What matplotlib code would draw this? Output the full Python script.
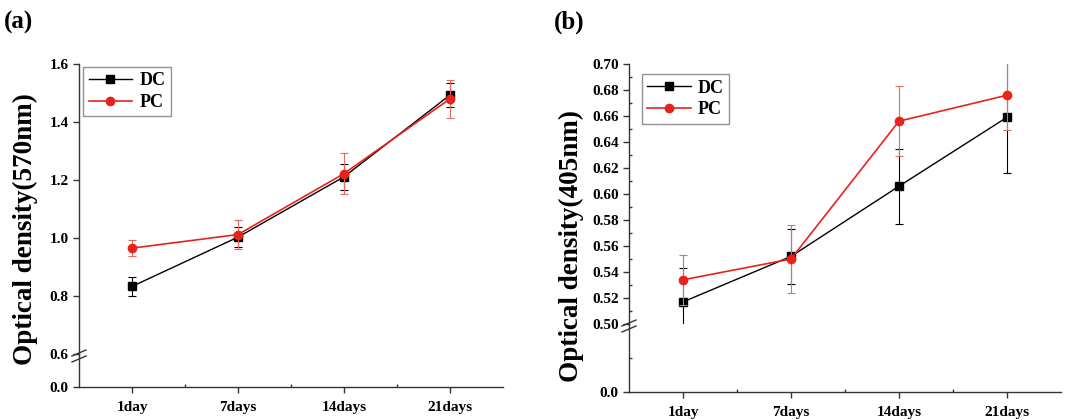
import numpy as np
import matplotlib
matplotlib.use("Agg")
import matplotlib.pyplot as plt
from matplotlib.lines import Line2D
from matplotlib.ticker import FixedLocator, MultipleLocator

plt.rcParams['font.family'] = ['Liberation Serif', 'DejaVu Serif']
plt.rcParams['font.weight'] = 'bold'

days = ["1day", "7days", "14days", "21days"]

# (a) optical density at 570nm
dc_570 = [0.833, 1.003, 1.211, 1.493]
dc_570_err = [0.033, 0.035, 0.045, 0.040]
pc_570 = [0.965, 1.012, 1.222, 1.480]
pc_570_err = [0.027, 0.050, 0.070, 0.065]

# (b) optical density at 405nm
dc_405 = [0.517, 0.552, 0.606, 0.659]
dc_405_err = [0.026, 0.021, 0.029, 0.043]
pc_405 = [0.534, 0.550, 0.656, 0.676]
pc_405_err = [0.019, 0.026, 0.027, 0.027]

RED = '#e8231c'
W, H = 1080, 420


def frac(left, top, right, bottom):
    return [left / W, 1 - bottom / H, (right - left) / W, (bottom - top) / H]


def style(ax):
    for s in ['top', 'right']:
        ax.spines[s].set_visible(False)
    for s in ax.spines.values():
        s.set_color('#333333')
        s.set_linewidth(1.0)
    ax.tick_params(which='major', direction='out', length=4, width=1,
                   labelsize=11, color='#333333')
    ax.tick_params(which='minor', direction='in', length=2.5, width=1, color='#333333')
    for lab in ax.get_xticklabels() + ax.get_yticklabels():
        lab.set_fontweight('bold')


def draw_panel(left, right, top, brk, bottom, upper_lim, lower_lim, yticks,
               yfmt, ymin_minor, lower_minor, dc, dce, pc, pce, ylabel, letter,
               lab_dx, lab_y, leg_anchor):
    x = np.arange(1, len(days) + 1)
    up = fig.add_axes(frac(left, top, right, brk))
    lo = fig.add_axes(frac(left, brk, right, bottom))

    for ax in (up, lo):
        ax.errorbar(x, dc, yerr=dce, color='black', lw=1.0, marker='s', ms=5.5,
                    capsize=3, elinewidth=0.8, capthick=0.8, zorder=3)
        ax.errorbar(x, pc, yerr=pce, color=RED, lw=1.2, marker='o', ms=6,
                    capsize=3, elinewidth=0.8, capthick=0.8, zorder=4,
                    ecolor='#e86a60')
        ax.set_xlim(0.5, len(days) + 0.5)
        ax.patch.set_alpha(0)

    up.set_ylim(*upper_lim)
    up.set_yticks(yticks)
    up.set_yticklabels([yfmt.format(v) for v in yticks])
    if ymin_minor:
        up.yaxis.set_minor_locator(MultipleLocator(ymin_minor))
    up.set_xticks([])
    style(up)
    up.spines['bottom'].set_visible(False)

    lo.set_ylim(*lower_lim)
    lo.set_yticks([0.0])
    lo.set_yticklabels(['0.0'])
    if lower_minor:
        lo.yaxis.set_minor_locator(FixedLocator(lower_minor))
    lo.set_xticks(x)
    lo.set_xticklabels(days)
    lo.xaxis.set_minor_locator(FixedLocator(x[:-1] + 0.5))
    style(lo)
    lo.tick_params(axis='x', which='major', pad=6)

    # break marks on the y axis
    xb = left / W
    yb = 1 - (brk + 2) / H
    for dy in (-3, 3):
        fig.add_artist(Line2D([xb - 7 / W, xb + 7 / W],
                              [yb + (dy - 3) / H, yb + (dy + 3) / H],
                              color='#333333', lw=1.0))

    fig.text((left - lab_dx) / W, 1 - lab_y / H, ylabel, rotation=90,
             ha='center', va='center', fontsize=19.5, fontweight='bold')
    fig.text((left - 75) / W, 1 - 22 / H, letter, ha='left', va='center',
             fontsize=18, fontweight='bold')

    handles = [Line2D([], [], color='black', lw=1.0, marker='s', ms=5.5),
               Line2D([], [], color=RED, lw=1.2, marker='o', ms=6)]
    leg = up.legend(handles, ['DC', 'PC'], loc='upper left',
                    bbox_to_anchor=leg_anchor, fontsize=13,
                    frameon=True, fancybox=False, handlelength=2.4,
                    borderpad=0.3, labelspacing=0.25, handletextpad=0.4,
                    borderaxespad=0)
    leg.get_frame().set_edgecolor('#777777')
    leg.get_frame().set_linewidth(1.0)
    for t in leg.get_texts():
        t.set_fontweight('bold')
    return up, lo


fig = plt.figure(figsize=(10.8, 4.2), dpi=100)

draw_panel(79, 503, 64, 354, 387, (0.6, 1.6), (0.0, 0.1),
           [0.6, 0.8, 1.0, 1.2, 1.4, 1.6], '{:.1f}', None, None,
           dc_570, dc_570_err, pc_570, pc_570_err,
           'Optical density(570nm)', '(a)', 54, 229, (0.01, 0.99))

draw_panel(629, 1061, 64, 324, 392, (0.50, 0.70), (0.0, 0.2),
           [0.50, 0.52, 0.54, 0.56, 0.58, 0.60, 0.62, 0.64, 0.66, 0.68, 0.70],
           '{:.2f}', 0.01, [0.1],
           dc_405, dc_405_err, pc_405, pc_405_err,
           'Optical density(405nm)', '(b)', 58, 246, (0.03, 0.96))

fig.savefig('out.png', dpi=100)
